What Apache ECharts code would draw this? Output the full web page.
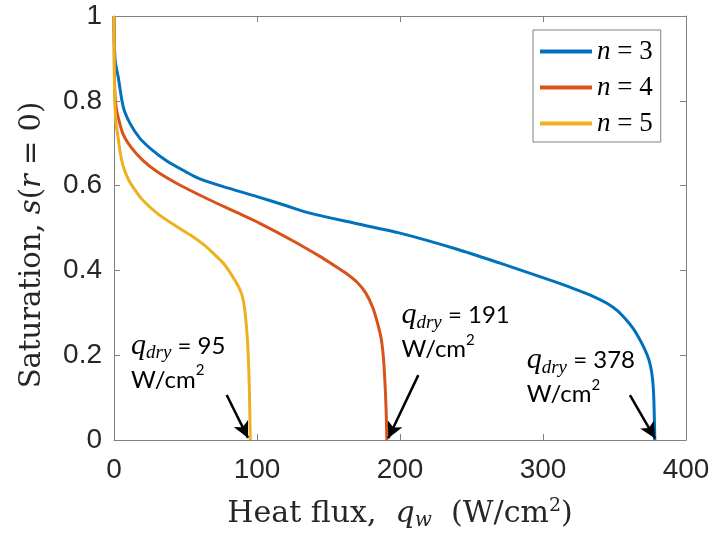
<!DOCTYPE html>
<html>
<head>
<meta charset="utf-8">
<script src="https://cdn.jsdelivr.net/npm/echarts@6/dist/echarts.min.js"></script>
<style>
  html, body { margin: 0; padding: 0; background: #fff; }
  #main { width: 712px; height: 533px; }
</style>
</head>
<body>
<div id="main"></div>
<script>
// values: heat flux q_w (W/cm2) vs saturation s(r=0)
var fluxN3 = [0, 0.3, 1, 3, 6.5, 11, 18, 27, 37, 50, 60, 80, 100, 120, 137, 170, 200, 240, 270, 305, 320, 335, 345, 352, 358, 363, 367, 371, 374, 376, 377.2, 377.8, 378.2];
var satN3  = [1, 0.93, 0.89, 0.855, 0.785, 0.748, 0.712, 0.683, 0.658, 0.633, 0.616, 0.594, 0.574, 0.553, 0.535, 0.51, 0.488, 0.45, 0.417, 0.377, 0.359, 0.339, 0.322, 0.305, 0.284, 0.263, 0.241, 0.215, 0.19, 0.16, 0.12, 0.06, 0];

var fluxN4 = [0, 0.2, 0.6, 1.5, 3, 6.5, 12, 20, 30, 44, 67, 85, 102, 125, 144, 152, 162, 170, 176, 181, 184.5, 187, 188.5, 189.5, 190.3, 190.8];
var satN4  = [1, 0.9, 0.82, 0.785, 0.76, 0.72, 0.69, 0.66, 0.633, 0.605, 0.566, 0.538, 0.511, 0.47, 0.433, 0.416, 0.394, 0.372, 0.347, 0.312, 0.273, 0.236, 0.19, 0.134, 0.07, 0];

var fluxN5 = [0, 0.2, 0.6, 1.5, 3, 4.5, 6.5, 10, 15, 20, 30, 44, 55, 63, 69.5, 77, 83, 87, 89, 90.5, 91.5, 92.3, 93, 94, 94.6, 95, 95.3];
var satN5  = [1, 0.88, 0.79, 0.745, 0.71, 0.675, 0.645, 0.615, 0.588, 0.566, 0.535, 0.503, 0.48, 0.46, 0.44, 0.415, 0.385, 0.362, 0.347, 0.328, 0.305, 0.28, 0.252, 0.19, 0.126, 0.06, 0];

var seriesNames = ['n = 3', 'n = 4', 'n = 5'];
var dryFlux = [378, 191, 95];
// annotation anchors [x, y] (data units) and arrow start/end
var labelPos = [[288.6, 0.148], [201, 0.254], [11.9, 0.182]];
var arrowFrom = [[360.8, 0.106], [212.8, 0.153], [78.8, 0.106]];
var arrowTo = [[378.3, 0.004], [191.8, 0.004], [93.7, 0.005]];

var xTicks = [0, 100, 200, 300, 400];
var yTicks = [0, 0.2, 0.4, 0.6, 0.8, 1];

var colors = ['#0072BD', '#D95319', '#EDB120'];
var serif = '"DejaVu Serif", "Liberation Serif", serif';
var sans = '"Liberation Sans", Arial, sans-serif';
var calib = 'Lato, "Open Sans", sans-serif';

var myChart = echarts.init(document.getElementById('main'));

function zip(xs, ys) {
    var out = [];
    for (var i = 0; i < xs.length; i++) out.push([xs[i], ys[i]]);
    return out;
}

var annRich = {
    q: { fontFamily: '"Liberation Serif", serif', fontStyle: 'italic', fontSize: 30, color: '#000', lineHeight: 34 },
    sub: { fontFamily: '"Liberation Serif", serif', fontStyle: 'italic', fontSize: 19, color: '#000', lineHeight: 20, verticalAlign: 'bottom' },
    t: { fontFamily: calib, fontSize: 24, color: '#000', lineHeight: 34 },
    sup: { fontFamily: calib, fontSize: 15, color: '#000', lineHeight: 32, verticalAlign: 'top' }
};

var allData = [zip(fluxN3, satN3), zip(fluxN4, satN4), zip(fluxN5, satN5)];
var series = [];
for (var k = 0; k < 3; k++) {
    series.push({
        name: seriesNames[k],
        type: 'line',
        data: allData[k],
        showSymbol: false,
        symbol: 'none',
        smooth: 0.3,
        lineStyle: { color: colors[k], width: 3 },
        itemStyle: { color: colors[k] },
        z: 2 + k,
        markPoint: {
            silent: true,
            symbol: 'circle',
            symbolSize: 0,
            data: [{
                coord: labelPos[k],
                label: {
                    show: true,
                    position: 'right',
                    distance: 0,
                    formatter: '{q|q}{sub|dry}{t| = ' + dryFlux[k] + '}\n{t|W/cm}{sup|2}',
                    rich: annRich
                }
            }]
        },
        markLine: {
            silent: true,
            symbol: ['none', 'arrow'],
            symbolSize: [12, 16],
            label: { show: false },
            lineStyle: { color: '#000', width: 2.5, type: 'solid' },
            data: [[{ coord: arrowFrom[k] }, { coord: arrowTo[k] }]]
        }
    });
}

var axisLine = { show: true, onZero: false, lineStyle: { color: '#808080', width: 1 } };
var axisTick = { show: true, inside: true, length: 6, lineStyle: { color: '#808080' } };

myChart.setOption({
    animation: false,
    color: colors,
    grid: { left: 114, top: 16, right: 26, bottom: 93, containLabel: false, outerBoundsMode: 'none' },
    legend: {
        orient: 'vertical',
        left: 533,
        top: 30,
        padding: [8, 8, 5, 7],
        itemGap: 9,
        itemWidth: 52,
        itemHeight: 4,
        icon: 'rect',
        borderColor: '#808080',
        borderWidth: 1,
        backgroundColor: '#fff',
        data: seriesNames,
        formatter: function (name) {
            return '{i|n} = ' + name.split('= ')[1];
        },
        textStyle: {
            fontFamily: '"Liberation Serif", serif', fontSize: 27, color: '#000', lineHeight: 26,
            rich: { i: { fontFamily: '"Liberation Serif", serif', fontStyle: 'italic', fontSize: 27, color: '#000' } }
        }
    },
    xAxis: [{
        type: 'value', min: xTicks[0], max: xTicks[xTicks.length - 1], interval: 100,
        splitLine: { show: false },
        axisLine: axisLine, axisTick: axisTick,
        axisLabel: { fontFamily: sans, fontSize: 28, color: '#262626', margin: 16 },
        name: 'Heat flux,  {i|q}{sub|w}  (W/cm{sup|2})',
        nameLocation: 'middle',
        nameGap: 57,
        nameTextStyle: {
            fontFamily: serif, fontSize: 30, color: '#262626', lineHeight: 34,
            rich: {
                i: { fontFamily: serif, fontStyle: 'italic', fontSize: 30, color: '#262626', lineHeight: 34 },
                sub: { fontFamily: serif, fontStyle: 'italic', fontSize: 20, color: '#262626', lineHeight: 22, verticalAlign: 'bottom' },
                sup: { fontFamily: serif, fontSize: 19, color: '#262626', lineHeight: 30, verticalAlign: 'top' }
            }
        }
    }, {
        type: 'value', position: 'top', min: 0, max: 400, interval: 100,
        splitLine: { show: false }, axisLine: axisLine, axisTick: axisTick,
        axisLabel: { show: false }
    }],
    yAxis: [{
        type: 'value', min: yTicks[0], max: yTicks[yTicks.length - 1], interval: 0.2,
        splitLine: { show: false },
        axisLine: axisLine, axisTick: axisTick,
        axisLabel: { fontFamily: sans, fontSize: 28, color: '#262626', margin: 12 },
        name: 'Saturation, {i|s}({i|r} = 0)',
        nameLocation: 'middle',
        nameRotate: 90,
        nameGap: 67,
        nameTextStyle: {
            fontFamily: serif, fontSize: 29, color: '#262626',
            padding: [0, 34, 0, 0],
            rich: { i: { fontFamily: serif, fontStyle: 'italic', fontSize: 29, color: '#262626' } }
        }
    }, {
        type: 'value', position: 'right', min: 0, max: 1, interval: 0.2,
        splitLine: { show: false }, axisLine: axisLine, axisTick: axisTick,
        axisLabel: { show: false }
    }],
    series: series
});
</script>
</body>
</html>
